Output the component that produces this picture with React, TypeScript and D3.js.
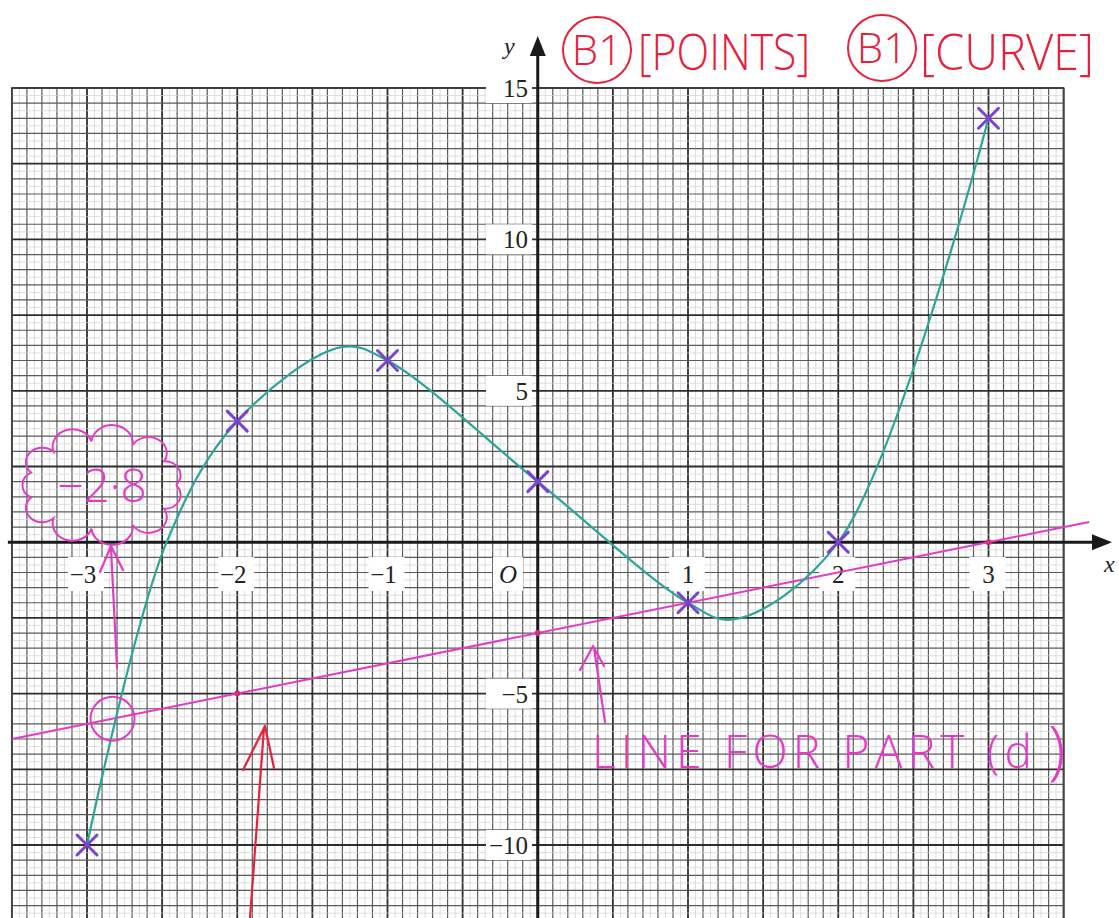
import React from "react";
import * as d3 from "d3";

// ---- data ----
const pointX = [-3, -2, -1, 0, 1, 2, 3];
const pointY = [-10, 4, 6, 2, -2, 0, 14];
// hand-drawn curve guide points (incl. turning points)
const curveX = [-3, -2.47, -2, -1.3, -1, 0, 1, 1.3, 2, 3];
const curveY = [-10, 0, 4, 6.45, 6, 2, -2, -2.55, 0, 14];
// straight line for part (d)
const lineX = [-3.5, 3.67];
const lineY = [-6.5, 0.67];
const lineDotX = [-2, 0, 3];
const lineDotY = [-5, -3, 0];
const intersectX = -2.83;
const intersectY = -5.83;
const xTickValues = [-3, -2, -1, 1, 2, 3];
const xTickLabels = ["\u22123", "\u22122", "\u22121", "1", "2", "3"];
const yTickValues = [15, 10, 5, -5, -10];
const yTickLabels = ["15", "10", "5", "\u22125", "\u221210"];

const W = 1119;
const H = 918;

export default function App() {
  const x = d3.scaleLinear().domain([-3, 3]).range([87, 988.5]);
  const y = d3.scaleLinear().domain([15, -10]).range([88, 845]);

  const gxMin = -3.5, gxMax = 3.5, gyMin = -12.75, gyMax = 15;

  const fineX = d3.range(Math.round(gxMin * 20), Math.round(gxMax * 20) + 1).map((i) => i / 20);
  const fineY = d3.range(Math.round(gyMin * 4), Math.round(gyMax * 4) + 1).map((i) => i / 4);

  const gridLines: JSX.Element[] = [];
  fineX.forEach((v, i) => {
    const k = Math.round(v * 20);
    let cls = "light";
    if (k % 10 === 0) cls = "bold";
    else if (k % 2 === 0) cls = "mid";
    gridLines.push(
      <line key={"gx" + i} x1={x(v)} x2={x(v)} y1={y(gyMax)} y2={y(gyMin)} className={cls} />
    );
  });
  fineY.forEach((v, i) => {
    const k = Math.round(v * 4);
    let cls = "light";
    if (k % 10 === 0) cls = "bold";
    else if (k % 2 === 0) cls = "mid";
    gridLines.push(
      <line key={"gy" + i} x1={x(gxMin)} x2={x(gxMax)} y1={y(v)} y2={y(v)} className={cls} />
    );
  });

  const curvePts: [number, number][] = curveX.map((v, i) => [v, curveY[i]]);
  const curvePath = d3
    .line<[number, number]>()
    .x((d) => x(d[0]))
    .y((d) => y(d[1]))
    .curve(d3.curveCatmullRom.alpha(0.5))(curvePts) as string;

  const linePath = d3
    .line<number>()
    .x((d) => x(d))
    .y((_, i) => y(lineY[i]))(lineX) as string;

  // cloud around "-2.8"
  const cloudCx = 102, cloudCy = 485, cloudRx = 74, cloudRy = 44, bumps = 11;
  let cloud = "";
  for (let i = 0; i <= bumps; i++) {
    const a = (i / bumps) * Math.PI * 2;
    const px = cloudCx + cloudRx * Math.cos(a);
    const py = cloudCy + cloudRy * Math.sin(a);
    if (i === 0) cloud += `M${px},${py}`;
    else cloud += ` A16,14 0 0 1 ${px},${py}`;
  }

  const pink = "#e23cc6";
  const red = "#e8203c";
  const teal = "#2aa597";
  const purple = "#7a45cc";
  const serif = "'Liberation Serif', 'DejaVu Serif', serif";
  const hand = "'Open Sans', 'DejaVu Sans', sans-serif";

  return (
    <svg
      width={W}
      height={H}
      viewBox={`0 0 ${W} ${H}`}
      style={{ position: "absolute", left: 0, top: 0, background: "#fff" }}
    >
      <style>{`
        .light{stroke:#cfcfcf;stroke-width:0.7}
        .mid{stroke:#5a5a5a;stroke-width:1.2}
        .bold{stroke:#2e2e2e;stroke-width:1.8}
      `}</style>
      <rect x={0} y={0} width={W} height={H} fill="#fff" />
      <g>{gridLines}</g>
      <rect x={x(gxMin)} y={y(gyMax)} width={x(gxMax) - x(gxMin)} height={y(gyMin) - y(gyMax)} fill="none" stroke="#444" strokeWidth={1.6} />

      {/* tick label backgrounds */}
      {xTickValues.map((v, i) => (
        <rect key={"xb" + i} x={x(v) - 19} y={557} width={36} height={34} fill="#fff" />
      ))}
      <rect x={493} y={557} width={30} height={34} fill="#fff" />
      {yTickValues.map((v, i) => (
        <rect key={"yb" + i} x={486} y={y(v) - 15} width={46} height={30} fill="#fff" />
      ))}
      <rect x={440} y={0} width={100} height={y(gyMax) - 1} fill="#fff" />

      {/* axes */}
      <line x1={x(gxMin) - 4} x2={1100} y1={y(0)} y2={y(0)} stroke="#1a1a1a" strokeWidth={3} />
      <path d={`M1112,${y(0)} L1092,${y(0) - 8} L1092,${y(0) + 8} Z`} fill="#1a1a1a" />
      <line x1={x(0)} x2={x(0)} y1={H} y2={50} stroke="#1a1a1a" strokeWidth={3} />
      <path d={`M${x(0)},36 L${x(0) - 8},56 L${x(0) + 8},56 Z`} fill="#1a1a1a" />
      <text x={1104} y={572} fontFamily={serif} fontStyle="italic" fontSize={24} fill="#222">x</text>
      <text x={504} y={54} fontFamily={serif} fontStyle="italic" fontSize={24} fill="#222">y</text>

      {/* tick labels */}
      {xTickValues.map((v, i) => (
        <text key={"xt" + i} x={x(v) - (v < 0 ? 4 : 0)} y={583} textAnchor="middle" fontFamily={serif} fontSize={25} fill="#222">
          {xTickLabels[i]}
        </text>
      ))}
      <text x={508} y={583} textAnchor="middle" fontFamily={serif} fontStyle="italic" fontSize={25} fill="#222">O</text>
      {yTickValues.map((v, i) => (
        <text key={"yt" + i} x={528} y={y(v) + 9} textAnchor="end" fontFamily={serif} fontSize={25} fill="#222">
          {yTickLabels[i]}
        </text>
      ))}

      {/* line for part (d) */}
      <path d={linePath} fill="none" stroke={pink} strokeWidth={2} />
      {lineDotX.map((v, i) => (
        <circle key={"ld" + i} cx={x(v)} cy={y(lineDotY[i])} r={3} fill="#d0307a" />
      ))}

      {/* curve */}
      <path d={curvePath} fill="none" stroke={teal} strokeWidth={2.2} />

      {/* points */}
      {pointX.map((v, i) => {
        const cx = x(v), cy = y(pointY[i]), s = 10;
        return (
          <g key={"p" + i} stroke={purple} strokeWidth={3} strokeLinecap="round">
            <line x1={cx - s} y1={cy - s} x2={cx + s} y2={cy + s} />
            <line x1={cx - s} y1={cy + s} x2={cx + s} y2={cy - s} />
          </g>
        );
      })}

      {/* intersection circle and arrow */}
      <ellipse cx={x(intersectX)} cy={y(intersectY)} rx={22} ry={22} fill="none" stroke={pink} strokeWidth={2} />
      <path d="M117,668 L111,548 M100,572 L111,546 L123,570" fill="none" stroke={pink} strokeWidth={2.2} strokeLinecap="round" strokeLinejoin="round" />

      {/* cloud with -2.8 */}
      <path d={cloud} fill="none" stroke={pink} strokeWidth={2} />
      <text x={102} y={502} textAnchor="middle" fontFamily={hand} fontWeight={300} fontSize={46} fill={pink}>
        −2·8
      </text>

      {/* red arrow at bottom */}
      <path d="M250,918 L264,728 M243,770 L265,726 L274,768" fill="none" stroke={red} strokeWidth={2.2} strokeLinecap="round" strokeLinejoin="round" />

      {/* line for part (d) label */}
      <path d="M605,722 L594,648 M580,670 L593,646 L604,666" fill="none" stroke={pink} strokeWidth={2.2} strokeLinecap="round" strokeLinejoin="round" />
      <text x={592} y={768} fontFamily={hand} fontWeight={300} fontSize={46} fill={pink} textLength={440} lengthAdjust="spacing">
        LINE FOR PART (d
      </text>
      <text x={1048} y={772} fontFamily={hand} fontWeight={300} fontSize={64} fill={pink}>)</text>

      {/* B1 annotations */}
      <ellipse cx={597} cy={50} rx={34} ry={33} fill="none" stroke={red} strokeWidth={2} />
      <text x={597} y={65} textAnchor="middle" fontFamily={hand} fontWeight={300} fontSize={42} fill={red}>B1</text>
      <text x={638} y={70} fontFamily={hand} fontWeight={300} fontSize={50} fill={red} textLength={172} lengthAdjust="spacingAndGlyphs">[POINTS]</text>
      <ellipse cx={882} cy={48} rx={34} ry={33} fill="none" stroke={red} strokeWidth={2} />
      <text x={882} y={63} textAnchor="middle" fontFamily={hand} fontWeight={300} fontSize={42} fill={red}>B1</text>
      <text x={920} y={70} fontFamily={hand} fontWeight={300} fontSize={50} fill={red} textLength={174} lengthAdjust="spacingAndGlyphs">[CURVE]</text>
    </svg>
  );
}
